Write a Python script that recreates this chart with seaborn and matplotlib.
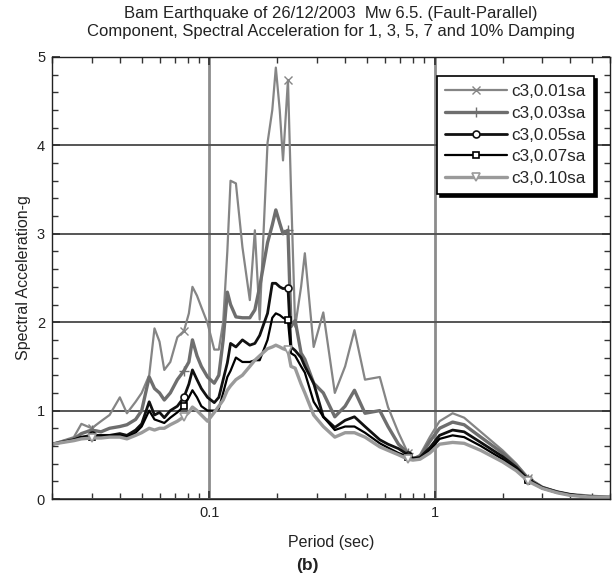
import numpy as np
import pandas as pd
import matplotlib
matplotlib.use("Agg")
import matplotlib.pyplot as plt
from matplotlib.ticker import FixedLocator, MultipleLocator, NullFormatter
import seaborn as sns

# Response spectra of the fault-parallel component, 5 damping levels
period = [0.020, 0.025, 0.027, 0.030, 0.033, 0.036, 0.040, 0.043, 0.047, 0.050,
          0.054, 0.057, 0.060, 0.063, 0.067, 0.072, 0.077, 0.081, 0.084, 0.088,
          0.092, 0.098, 0.105, 0.110, 0.115, 0.120, 0.124, 0.131, 0.140, 0.151,
          0.159, 0.167, 0.181, 0.190, 0.197, 0.205, 0.212, 0.223, 0.230, 0.240,
          0.255, 0.265, 0.290, 0.320, 0.360, 0.400, 0.440, 0.490, 0.570, 0.620,
          0.690, 0.760, 0.800, 0.860, 0.950, 1.050, 1.200, 1.350, 1.600, 2.000,
          2.300, 2.600, 3.000, 3.500, 4.000, 5.000, 6.000]

sa_01 = [0.62, 0.70, 0.85, 0.80, 0.88, 0.95, 1.15, 0.97, 1.10, 1.20,
         1.40, 1.93, 1.78, 1.46, 1.55, 1.83, 1.90, 2.10, 2.40, 2.30,
         2.17, 1.99, 1.69, 1.69, 2.00, 2.80, 3.60, 3.57, 2.85, 2.25,
         3.04, 2.03, 4.03, 4.40, 4.88, 4.40, 3.83, 4.74, 3.50, 1.95,
         2.40, 2.78, 1.72, 2.11, 1.20, 1.50, 1.91, 1.35, 1.38, 1.04,
         0.75, 0.52, 0.45, 0.50, 0.70, 0.88, 0.97, 0.92, 0.76, 0.55,
         0.40, 0.24, 0.14, 0.08, 0.05, 0.03, 0.02]
sa_03 = [0.62, 0.68, 0.74, 0.78, 0.76, 0.80, 0.82, 0.84, 0.90, 1.00,
         1.38, 1.25, 1.20, 1.12, 1.20, 1.35, 1.45, 1.55, 1.80, 1.62,
         1.50, 1.38, 1.31, 1.40, 1.80, 2.34, 2.20, 2.06, 2.05, 2.05,
         2.14, 2.40, 2.90, 3.10, 3.27, 3.12, 3.00, 3.04, 1.95, 2.02,
         1.65, 1.58, 1.31, 1.20, 0.93, 1.05, 1.23, 0.97, 1.00, 0.82,
         0.62, 0.52, 0.46, 0.48, 0.65, 0.80, 0.87, 0.84, 0.70, 0.52,
         0.38, 0.23, 0.13, 0.08, 0.05, 0.03, 0.02]
sa_05 = [0.62, 0.67, 0.70, 0.72, 0.72, 0.72, 0.74, 0.72, 0.78, 0.85,
         1.10, 0.95, 0.98, 0.92, 1.00, 1.05, 1.15, 1.30, 1.46, 1.35,
         1.25, 1.15, 1.09, 1.15, 1.35, 1.54, 1.76, 1.72, 1.80, 1.74,
         1.76, 1.85, 2.10, 2.44, 2.44, 2.40, 2.38, 2.39, 1.72, 1.68,
         1.60, 1.50, 1.31, 0.93, 0.81, 0.89, 0.93, 0.82, 0.67, 0.62,
         0.57, 0.50, 0.46, 0.47, 0.58, 0.72, 0.78, 0.76, 0.64, 0.48,
         0.36, 0.22, 0.13, 0.08, 0.05, 0.02, 0.02]
sa_07 = [0.62, 0.67, 0.70, 0.70, 0.71, 0.72, 0.72, 0.70, 0.75, 0.82,
         1.00, 0.90, 0.88, 0.86, 0.92, 0.98, 1.05, 1.15, 1.23, 1.15,
         1.05, 1.00, 1.00, 1.02, 1.20, 1.38, 1.45, 1.60, 1.55, 1.55,
         1.57, 1.57, 1.80, 2.05, 2.10, 2.08, 2.05, 2.02, 1.65, 1.62,
         1.50, 1.43, 1.10, 0.93, 0.78, 0.82, 0.82, 0.75, 0.63, 0.58,
         0.52, 0.48, 0.46, 0.46, 0.55, 0.68, 0.72, 0.70, 0.60, 0.45,
         0.34, 0.21, 0.12, 0.07, 0.05, 0.02, 0.02]
sa_10 = [0.62, 0.66, 0.68, 0.69, 0.69, 0.70, 0.70, 0.68, 0.72, 0.75,
         0.80, 0.78, 0.80, 0.80, 0.84, 0.88, 0.93, 0.98, 1.04, 1.00,
         0.95, 0.88, 0.98, 1.05, 1.12, 1.23, 1.28, 1.35, 1.40, 1.50,
         1.57, 1.62, 1.70, 1.72, 1.74, 1.72, 1.70, 1.68, 1.50, 1.48,
         1.30, 1.20, 0.95, 0.82, 0.70, 0.75, 0.75, 0.70, 0.59, 0.55,
         0.50, 0.45, 0.44, 0.45, 0.52, 0.62, 0.64, 0.63, 0.55, 0.42,
         0.32, 0.20, 0.12, 0.07, 0.04, 0.02, 0.02]

labels = ["c3,0.01sa", "c3,0.03sa", "c3,0.05sa", "c3,0.07sa", "c3,0.10sa"]
series = [sa_01, sa_03, sa_05, sa_07, sa_10]

# periods at which each curve carries its symbol
mark_periods = [0.030, 0.077, 0.223, 0.76, 2.6]

styles = [
    dict(color="#858585", lw=1.6, marker="x", ms=6, mew=1.0),
    dict(color="#6e6e6e", lw=2.4, marker="+", ms=7, mew=1.0),
    dict(color="#111111", lw=2.0, marker="o", ms=5, mew=1.2),
    dict(color="#000000", lw=1.6, marker="s", ms=5, mew=1.2),
    dict(color="#9a9a9a", lw=2.4, marker="v", ms=6, mew=1.2),
]

sns.set_theme(style="white")
plt.rcParams["font.family"] = ["Liberation Sans", "DejaVu Sans"]

fig = plt.figure(figsize=(6.15, 5.85), dpi=100)
ax = fig.add_axes([0.0846, 0.147, 0.9074, 0.7556])

p = np.array(period)
mark_idx = [int(np.argmin(np.abs(np.log(p) - np.log(m)))) for m in mark_periods]

for lab, vals, st in zip(labels, series, styles):
    df = pd.DataFrame({"Period": period, "SA": vals})
    sns.lineplot(data=df, x="Period", y="SA", ax=ax, color=st["color"],
                 linewidth=st["lw"], marker=st["marker"], markersize=st["ms"],
                 markeredgewidth=st["mew"], markerfacecolor="white",
                 markeredgecolor=st["color"], markevery=mark_idx,
                 estimator=None, sort=False, label=lab)

ax.set_xscale("log")
ax.set_xlim(0.02, 6)
ax.set_ylim(0, 5)

ax.xaxis.set_major_locator(FixedLocator([0.1, 1]))
ax.set_xticklabels(["0.1", "1"])
minor_x = [k * 10.0 ** e for e in (-2, -1, 0) for k in range(2, 10)]
ax.xaxis.set_minor_locator(FixedLocator(minor_x))
ax.xaxis.set_minor_formatter(NullFormatter())
ax.yaxis.set_major_locator(MultipleLocator(1))
ax.yaxis.set_minor_locator(MultipleLocator(0.2))

# vertical grid lighter and wider, horizontal grid darker
ax.xaxis.grid(True, which="major", color="#8c8c8c", linewidth=2.0)
ax.yaxis.grid(True, which="major", color="#555555", linewidth=1.4)
ax.set_axisbelow(True)
for s in ax.spines.values():
    s.set_color("#222222")
    s.set_linewidth(1.0)
ax.tick_params(which="both", direction="in", top=True, right=True,
               bottom=True, left=True, colors="#333333", labelcolor="#222222")
ax.tick_params(which="major", length=6, labelsize=10.5, pad=5)
ax.tick_params(which="minor", length=4)

ax.set_xlabel("Period (sec)", fontsize=11.5, color="#222222", labelpad=11)
ax.set_ylabel("Spectral Acceleration-g", fontsize=11.5, color="#222222", labelpad=4)

ax.set_title("Bam Earthquake of 26/12/2003  Mw 6.5. (Fault-Parallel)\n"
             "Component, Spectral Acceleration for 1, 3, 5, 7 and 10% Damping",
             fontsize=12, color="#222222", pad=15, linespacing=1.3)

leg = ax.legend(loc="upper right", bbox_to_anchor=(0.98, 0.968), fontsize=12.3,
                frameon=True, fancybox=False, shadow={"color": "black", "alpha": 1},
                handlelength=3.6, borderpad=0.45, labelspacing=0.4,
                handletextpad=0.3, borderaxespad=0.3)
leg.get_frame().set_edgecolor("black")
leg.get_frame().set_linewidth(1.2)

fig.text(0.5, 0.034, "(b)", ha="center", va="center", fontsize=12.5,
         fontweight="bold", color="#222222")

fig.savefig("out.png", dpi=100)
